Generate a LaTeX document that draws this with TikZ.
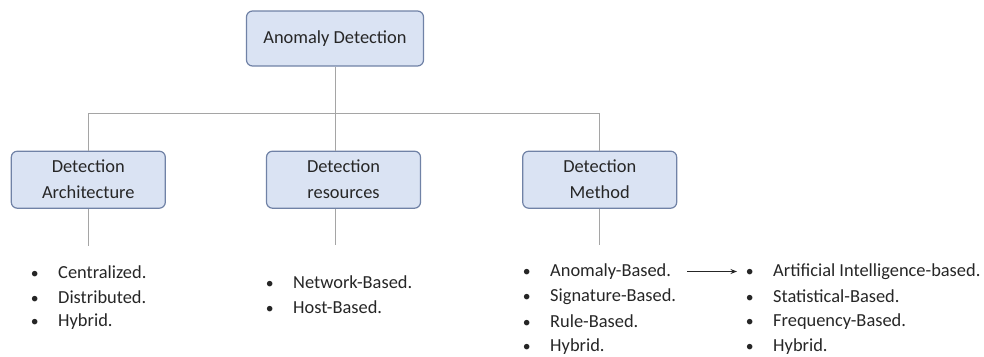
\documentclass[tikz,border=0pt]{standalone}
\usepackage{fontspec}
\setmainfont{Carlito}
\usetikzlibrary{arrows.meta, positioning}
\definecolor{boxfill}{RGB}{218,227,243}
\definecolor{boxline}{RGB}{112,130,166}
\definecolor{wire}{RGB}{165,165,165}
\definecolor{ink}{RGB}{38,38,38}
\newcommand{\bul}{\makebox[28pt][l]{\hspace{0.6pt}\scalebox{0.85}{•}}}

\begin{document}
\begin{tikzpicture}[x=1pt, y=1pt, node distance=84pt and 100pt,
    every node/.style={font=\fontsize{18.4}{26}\selectfont, text=ink},
    box/.style={rectangle, rounded corners=6pt, draw=boxline, line width=1.2pt, fill=boxfill, minimum width=154pt, minimum height=57pt, align=center, inner sep=2pt},
    item/.style={anchor=west, inner sep=0pt},
    wire/.style={draw=wire, line width=1pt},
    arrow/.style={->, >={Stealth[length=6.5pt, width=5pt]}, draw=ink, line width=0.9pt}]

\useasboundingbox (0,0) rectangle (984,-356);

% Main boxes
\node[box, minimum width=177pt, minimum height=55pt] (top) at (335,-38.5) {Anomaly Detection};
\node[box, below=84pt of top, xshift=8.5pt] (res) {Detection\\resources};
\node[box, left=100pt of res] (arch) {Detection\\Architecture};
\node[box, right=101pt of res] (meth) {Detection\\Method};

% Tree lines
\draw[wire] (top.south) -- ++(0,-47) coordinate (bus);
\draw[wire] (bus) -- (bus |- res.north);
\draw[wire] (arch.north) |- (bus) -| (meth.north);

% Lines below the boxes
\draw[wire] (arch.south) -- ++(0,-37) coordinate (archend);
\draw[wire] (bus |- res.south) -- ++(0,-36) coordinate (resend);
\draw[wire] (meth.south) -- ++(0,-36) coordinate (methend);

% Bullet lists
\foreach \t [count=\i] in {Centralized., Distributed., Hybrid.}
  \node[item] (c\i) at (30,-247-25*\i) {\bul\t};
\foreach \t [count=\i] in {Network-Based., Host-Based.}
  \node[item] (n\i) at (265,-257-25*\i) {\bul\t};
\foreach \t [count=\i] in {Anomaly-Based., Signature-Based., Rule-Based., Hybrid.}
  \node[item] (m\i) at (522,-246.5-25*\i) {\bul\t};
\foreach \t [count=\i] in {Artificial Intelligence-based., Statistical-Based., Frequency-Based., Hybrid.}
  \node[item] (ai\i) at (745,-246.5-25*\i) {\bul\t};

% Anomaly-based split
\draw[arrow, shorten <=16pt, shorten >=8pt] (m1.east) -- (ai1.west);

\end{tikzpicture}
\end{document}
